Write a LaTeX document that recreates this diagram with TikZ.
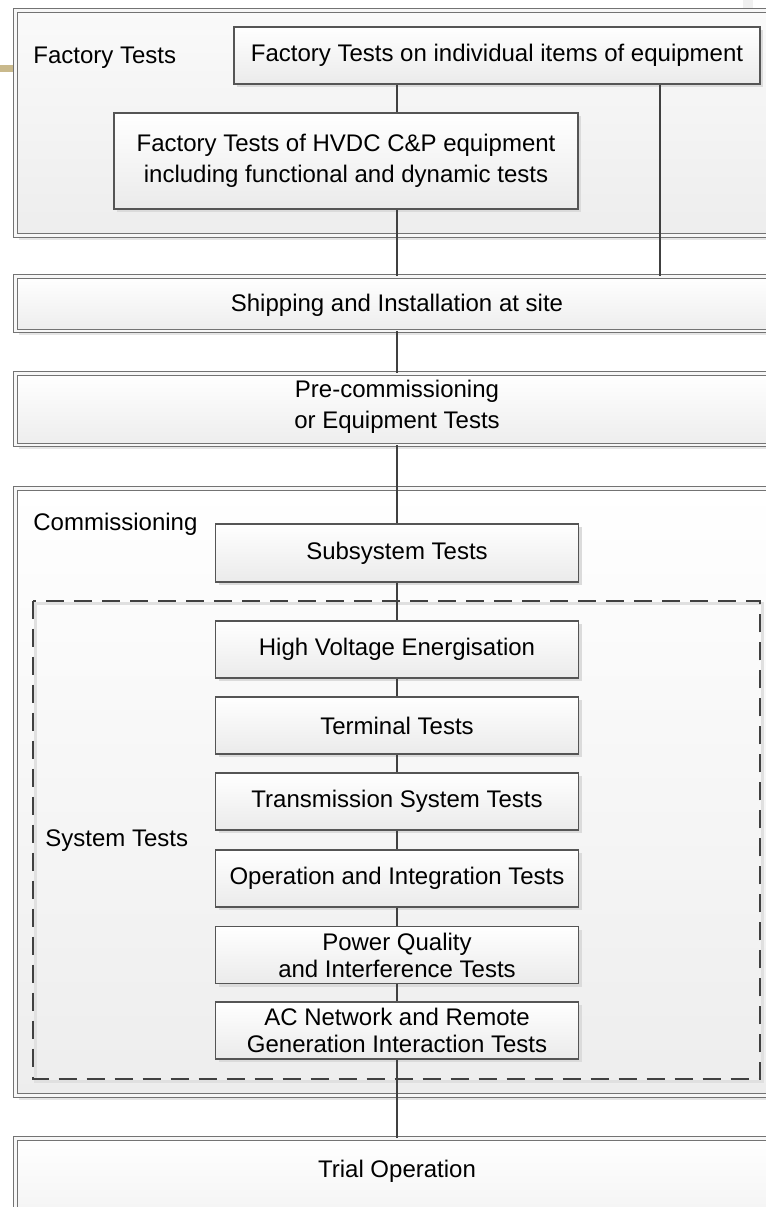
\documentclass[tikz,border=0pt]{standalone}
\usepackage{fontspec}
\setmainfont{Liberation Sans}
\usetikzlibrary{shadows,calc}
\definecolor{linec}{HTML}{404040}
\definecolor{boxline}{HTML}{555555}
\definecolor{gold}{HTML}{C9B98C}
\begin{document}
\begin{tikzpicture}[x=0.5pt, y=-0.5pt,
  every node/.style={font=\fontsize{12}{13.5}\selectfont, text=black},
  sbox/.style={draw=boxline, line width=0.55pt, top color=white, bottom color=black!8,
    minimum width=181.5pt, minimum height=28.5pt, inner sep=0pt, align=center,
    drop shadow={shadow xshift=1.5pt, shadow yshift=-1.5pt, fill=black!14, opacity=1}},
  obox/.style={draw=black!55, double=black!3, double distance=1.4pt, line width=0.45pt,
    top color=white, bottom color=black!7, inner sep=0pt, minimum width=392.15pt,
    drop shadow={shadow xshift=1.5pt, shadow yshift=-2pt, fill=black!10, opacity=1}},
  conn/.style={draw=linec, line width=1pt},
  lab/.style={anchor=base west, inner sep=0pt},
  twoline/.style={font=\fontsize{12}{15.5}\selectfont, align=center}
]
\useasboundingbox (0,0) rectangle (766,1207);
\clip (0,0) rectangle (766,1207);
\fill[black!6] (743,0) rectangle (753,9);
\draw[gold, line width=3.5pt] (0,68.5) -- (14,68.5);

% outer boxes
\node[obox, top color=black!2, bottom color=black!7, minimum height=112.6pt] (fact) at (407.85,122.9) {};
\node[obox, minimum height=27.15pt] (ship) at (407.85,303.85) {};
\node[obox, minimum height=35.75pt] (pre) at (407.85,409.25) {};
\node[obox, top color=white, bottom color=black!7, minimum height=303.5pt] (comm) at (407.85,792) {};
\node[obox, minimum height=60.75pt] (trial) at (407.85,1199.25) {};

% dashed group
\draw[black!12, line width=1.2pt] (35.5,603.5) rectangle (762.5,1081.5);
\draw[linec, line width=1pt, dash pattern=on 9pt off 5pt] (33,600.7) rectangle (760,1079);

% labels
\node[lab] (ftlab) at (33,63.3) {Factory Tests};
\node[lab] (comlab) at (33,530.7) {Commissioning};
\node[lab] (stlab) at (45,846) {System Tests};
\node (shiptxt) at (397,305) {Shipping and Installation at site};
\node[twoline] (pretxt) at (397,407) {Pre-commissioning\\or Equipment Tests};
\node (trialtxt) at (397,1171) {Trial Operation};

% inner boxes
\node[sbox, minimum width=263pt] (indiv) at (497,55.5) {Factory Tests on individual items of equipment};
\node[sbox, twoline, minimum width=232pt, minimum height=48pt] (hvdc) at (346,161) {Factory Tests of HVDC C\&P equipment\\including functional and dynamic tests};
\node[sbox, minimum height=29pt] (sub) at (397,553) {Subsystem Tests};
\node[sbox] (hv) at (397,649.5) {High Voltage Energisation};
\node[sbox] (term) at (397,725.5) {Terminal Tests};
\node[sbox] (trans) at (397,801.5) {Transmission System Tests};
\node[sbox] (oper) at (397,878.5) {Operation and Integration Tests};
\node[sbox] (pq) at (397,955) {Power Quality\\and Interference Tests};
\node[sbox] (ac) at (397,1030.5) {AC Network and Remote\\Generation Interaction Tests};

% connectors
\coordinate (axis) at (397,0);
\coordinate (raxis) at (660,0);
\draw[conn] (indiv.south -| axis) -- (hvdc.north -| axis);
\draw[conn] (hvdc.south -| axis) -- (ship.north -| axis);
\draw[conn] (indiv.south -| raxis) -- (ship.north -| raxis);
\draw[conn] (ship.south -| axis) -- (pre.north -| axis);
\draw[conn] (pre.south -| axis) -- (sub.north);
\draw[conn] (sub.south) -- (hv.north);
\draw[conn] (hv.south) -- (term.north);
\draw[conn] (term.south) -- (trans.north);
\draw[conn] (trans.south) -- (oper.north);
\draw[conn] (oper.south) -- (pq.north);
\draw[conn] (pq.south) -- (ac.north);
\draw[conn] (ac.south) -- (trial.north -| ac.south);
\end{tikzpicture}
\end{document}
